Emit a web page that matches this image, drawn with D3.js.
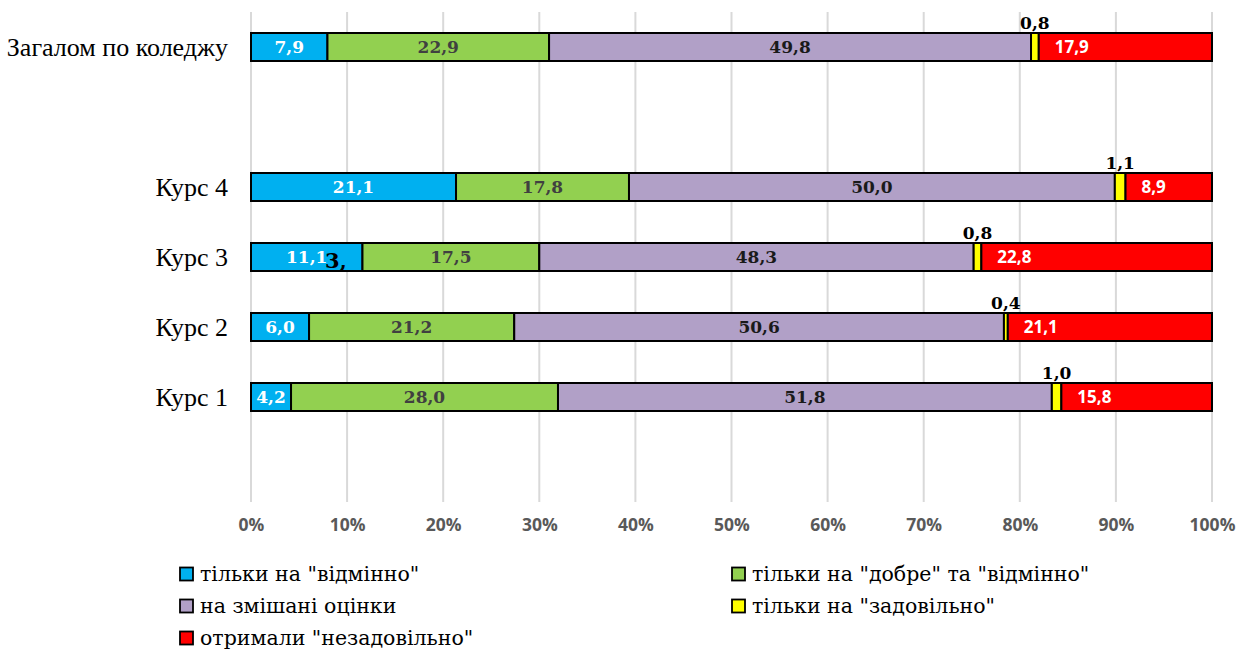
<!DOCTYPE html>
<html><head><meta charset="utf-8">
<script src="https://cdn.jsdelivr.net/npm/d3@7"></script>
<style>body{margin:0;background:#fff}svg{display:block}</style>
</head><body>
<svg id="c" width="1237" height="649"></svg>
<script>
const categories = ["Загалом по коледжу", "", "Курс 4", "Курс 3", "Курс 2", "Курс 1", " "];
const seriesNames = ['тільки на "відмінно"', 'тільки на "добре" та "відмінно"', 'на змішані оцінки', 'тільки на "задовільно"', 'отримали "незадовільно"'];
// printed data labels
const excellent    = [7.9, null, 21.1, 11.1, 6.0, 4.2, null];
const goodExc      = [22.9, null, 17.8, 17.5, 21.2, 28.0, null];
const mixed        = [49.8, null, 50.0, 48.3, 50.6, 51.8, null];
const satisfactory = [0.8, null, 1.1, 0.8, 0.4, 1.0, null];
const failed       = [17.9, null, 8.9, 22.8, 21.1, 15.8, null];
// bar lengths as drawn in the source (Курс 3 bar differs from its printed labels)
const excellentBar    = [7.9, 0, 21.1, 11.6, 6.0, 4.2, 0];
const goodExcBar      = [22.9, 0, 17.8, 18.4, 21.2, 28.0, 0];
const mixedBar        = [49.8, 0, 50.0, 45.2, 50.6, 51.8, 0];
const satisfactoryBar = [0.8, 0, 1.1, 0.8, 0.4, 1.0, 0];
const failedBar       = [17.9, 0, 8.9, 24.0, 21.1, 15.8, 0];
const tickValues  = [0,0.1,0.2,0.3,0.4,0.5,0.6,0.7,0.8,0.9,1];
const strayLabel = "3,";
const colors = ["#00b0f0", "#92d050", "#b1a0c7", "#ffff00", "#ff0000"];
const labelColors = ["#ffffff", "#404040", "#1a1a1a", "#000000", "#ffffff"];

const svg = d3.select("#c");
const M = {left:251, right:1212, top:12, bottom:502};
const x = d3.scaleLinear().domain([0,1]).range([M.left, M.right]);
const y = d3.scaleBand().domain(categories).range([M.top, M.bottom]).paddingInner(0.6).paddingOuter(0.3);

// gridlines
svg.append("g").selectAll("line").data(tickValues).join("line")
  .attr("x1", d=>x(d)).attr("x2", d=>x(d)).attr("y1", M.top).attr("y2", M.bottom)
  .attr("stroke", "#d9d9d9").attr("stroke-width", 2);

// x axis labels
const xAxis = d3.axisBottom(x).tickValues(tickValues).tickFormat(d3.format(".0%")).tickSize(0);
const gx = svg.append("g").attr("transform", `translate(0,${M.bottom+14})`).call(xAxis);
gx.select(".domain").remove();
gx.selectAll("text").attr("font-family","'Open Sans', sans-serif").attr("font-weight","bold")
  .attr("font-size", 17.5).attr("fill", "#595959");

// data table
const keys = ["a","b","c","d","e"];
const labelArrays = [excellent, goodExc, mixed, satisfactory, failed];
const table = categories.map((c,i)=>({cat:c, idx:i, a:excellentBar[i], b:goodExcBar[i], c:mixedBar[i], d:satisfactoryBar[i], e:failedBar[i]}));
const stack = d3.stack().keys(keys).offset(d3.stackOffsetExpand)(table);
const hasData = d => (d.data.a+d.data.b+d.data.c+d.data.d+d.data.e) > 0;

const bars = svg.append("g");
stack.forEach((layer, si)=>{
  bars.append("g").selectAll("rect").data(layer.filter(hasData)).join("rect")
    .attr("x", d=>x(d[0])).attr("width", d=>Math.max(0, x(d[1])-x(d[0])))
    .attr("y", d=>y(d.data.cat)).attr("height", y.bandwidth())
    .attr("fill", colors[si]).attr("stroke", "#000").attr("stroke-width", 2);
});

// labels
const fmt = v => v.toFixed(1).replace(".", ",");
stack.forEach((layer, si)=>{
  const g = svg.append("g");
  layer.filter(hasData).forEach(d=>{
    const v = labelArrays[si][d.data.idx];
    if (v == null) return;
    const cy = y(d.data.cat) + y.bandwidth()/2;
    const t = g.append("text").text(fmt(v)).attr("font-weight","bold").attr("fill", labelColors[si]);
    if (si === 3) {
      t.attr("x", (x(d[0])+x(d[1]))/2).attr("y", y(d.data.cat) - 4).attr("text-anchor","middle")
       .attr("font-family","'DejaVu Serif', serif").attr("font-size", 17);
    } else if (si === 4) {
      t.attr("x", x(d[0]) + 16).attr("y", cy).attr("dy","0.36em").attr("text-anchor","start")
       .attr("font-family","'Open Sans', sans-serif").attr("font-size", 17);
    } else {
      t.attr("x", (x(d[0])+x(d[1]))/2).attr("y", cy).attr("dy","0.36em").attr("text-anchor","middle")
       .attr("font-family","'DejaVu Serif', serif").attr("font-size", 17);
    }
  });
});
// stray label visible in the source near Курс 3
svg.append("text").text(strayLabel).attr("x", x(0.077)).attr("y", y("Курс 3")+y.bandwidth()-3)
  .attr("font-family","'DejaVu Serif', serif").attr("font-weight","bold").attr("font-size",21).attr("fill","#000");

// category labels
svg.append("g").selectAll("text").data(categories.filter(c=>c.trim())).join("text")
  .attr("x", 228).attr("y", d=>y(d)+y.bandwidth()/2).attr("dy","0.33em").attr("text-anchor","end")
  .attr("font-family","'Liberation Serif', serif").attr("font-size", 26).attr("fill","#000").text(d=>d);

// legend
const legPos = [[180,574],[732,574],[180,606],[732,606],[180,638]];
const lg = svg.append("g");
seriesNames.forEach((n,i)=>{
  const [lx,ly] = legPos[i];
  lg.append("rect").attr("x", lx).attr("y", ly-6.5).attr("width", 13).attr("height", 13)
    .attr("fill", colors[i]).attr("stroke","#000").attr("stroke-width",1.8);
  lg.append("text").attr("x", lx+20).attr("y", ly).attr("dy","0.35em")
    .attr("font-family","'DejaVu Serif', serif").attr("font-size", 20.5).attr("fill","#000").text(n);
});
</script>
</body></html>
